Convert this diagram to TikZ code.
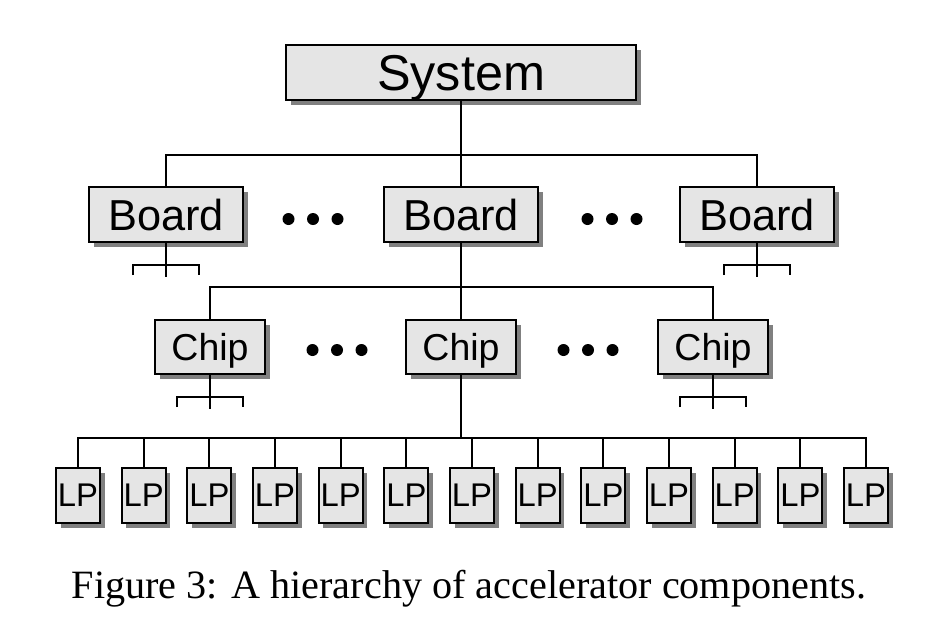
\documentclass[tikz,border=0pt]{standalone}
\usepackage{fontspec}
\setmainfont{Liberation Serif}
\setsansfont{Liberation Sans}
\usetikzlibrary{shadows}
\tikzset{
box/.style={draw, line width=1.7pt, fill=black!10, inner sep=0pt, text depth=0pt,
  drop shadow={shadow xshift=0.14cm, shadow yshift=-0.14cm, opacity=1, fill=black!50}},
sysbox/.style={box, minimum width=10.5cm, minimum height=1.65cm,
  font=\sffamily\fontsize{43}{43}\selectfont},
boardbox/.style={box, minimum width=4.62cm, minimum height=1.65cm,
  font=\sffamily\fontsize{37}{37}\selectfont},
chipbox/.style={box, minimum width=3.3cm, minimum height=1.62cm,
  font=\sffamily\fontsize{32}{32}\selectfont},
lpbox/.style={box, minimum width=1.32cm, minimum height=1.65cm,
  font=\sffamily\fontsize{28}{28}\selectfont},
wire/.style={line width=1.7pt},
stub/.pic={
  \draw[wire] (0,0) -- (0,34);
  \draw[wire] (-33,32) -- (-33,22) -- (33,22) -- (33,32);
  },
threedots/.pic={
  \fill (-24.5,0) circle [radius=6];
  \fill (0,0) circle [radius=6];
  \fill (24.5,0) circle [radius=6];
  }
}
\begin{document}
\begin{tikzpicture}[x=0.03cm, y=-0.03cm]
\useasboundingbox (0,0) rectangle (934,631);

% top level
\node[sysbox] (sys) at (461,72.5) {System};

% boards
\node[boardbox] (board1) at (166,214.5) {Board};
\node[boardbox] (board2) at (461,214.5) {Board};
\node[boardbox] (board3) at (757,214.5) {Board};
\pic at (313,219) {threedots};
\pic at (612,219) {threedots};

% chips
\node[chipbox] (chip1) at (210,347) {Chip};
\node[chipbox] (chip2) at (461,347) {Chip};
\node[chipbox] (chip3) at (713,347) {Chip};
\pic at (337,350) {threedots};
\pic at (588,350) {threedots};

% processors
\foreach \i in {0,...,12}
  \node[lpbox] (lp\i) at ({78+65.67*\i},495.5) {LP};

% wiring
\coordinate (bus1) at (461,155);
\coordinate (bus2) at (461,287);
\coordinate (bus3) at (461,438);
\draw[wire] (sys.south) -- (board2.north);
\draw[wire] (board1.north) |- (bus1) -| (board3.north);
\draw[wire] (board2.south) -- (chip2.north);
\draw[wire] (chip1.north) |- (bus2) -| (chip3.north);
\draw[wire] (chip2.south) -- (bus3);
\draw[wire] (lp0.north) |- (bus3) -| (lp12.north);
\foreach \i in {1,...,11}
  \draw[wire] (lp\i.north) -- (lp\i.north |- bus3);

\pic at (board1.south) {stub};
\pic at (board3.south) {stub};
\pic at (chip1.south) {stub};
\pic at (chip3.south) {stub};

\node[font=\fontsize{34.3}{34.3}\selectfont] (caption) at (469,589)
  {Figure 3: A hierarchy of accelerator components.};
\end{tikzpicture}
\end{document}
